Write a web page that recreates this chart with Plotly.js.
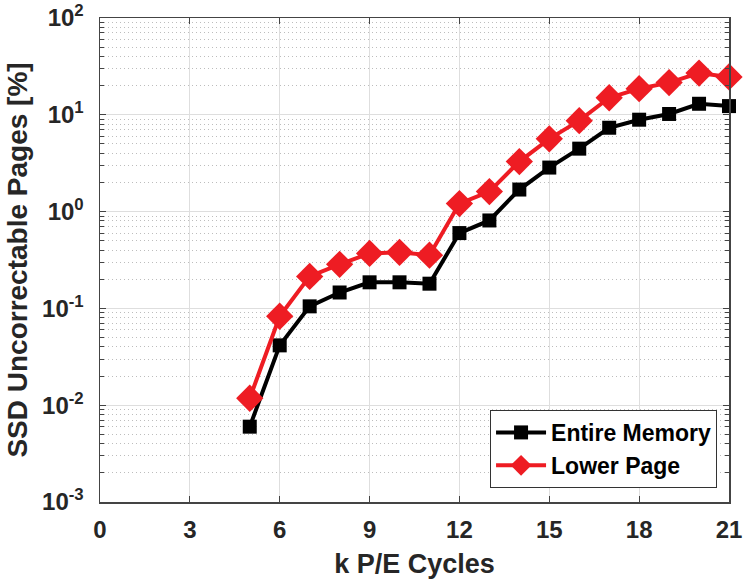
<!DOCTYPE html>
<html>
<head>
<meta charset="utf-8">
<script src="https://cdn.plot.ly/plotly-3.0.1.min.js"></script>
<style>html,body{margin:0;padding:0;background:#fff}#chart{width:743px;height:583px}</style>
</head>
<body>
<div id="chart"></div>
<script>
const kCycles = [5, 6, 7, 8, 9, 10, 11, 12, 13, 14, 15, 16, 17, 18, 19, 20, 21];
const entireMemory = [0.006, 0.0415, 0.105, 0.146, 0.186, 0.186, 0.18, 0.6, 0.81, 1.69, 2.85, 4.47, 7.35, 8.9, 10.2, 13.0, 12.3];
const lowerPage = [0.0118, 0.083, 0.214, 0.285, 0.37, 0.38, 0.355, 1.21, 1.61, 3.29, 5.65, 8.7, 15.0, 18.6, 21.5, 27.0, 24.6];
const xTickVals = [0, 3, 6, 9, 12, 15, 18, 21];
const yTickVals = [0.001, 0.01, 0.1, 1, 10, 100];
const yTickText = ['10<sup>-3</sup>', '10<sup>-2</sup>', '10<sup>-1</sup>', '10<sup>0</sup>', '10<sup>1</sup>', '10<sup>2</sup>'];

const font = 'Liberation Sans, Arial, sans-serif';
const traces = [
  {x: kCycles, y: entireMemory, name: 'Entire Memory', mode: 'lines+markers', type: 'scatter', cliponaxis: false,
   line: {color: '#000000', width: 4}, marker: {symbol: 'square', size: 14, color: '#000000'}},
  {x: kCycles, y: lowerPage, name: 'Lower Page', mode: 'lines+markers', type: 'scatter', cliponaxis: false,
   line: {color: '#ee1c23', width: 4}, marker: {symbol: 'diamond', size: 21, color: '#ee1c23'}}
];
const layout = {
  width: 743, height: 583,
  margin: {l: 100, r: 14, t: 18, b: 81},
  paper_bgcolor: '#ffffff', plot_bgcolor: '#ffffff',
  showlegend: true,
  font: {family: font, color: '#262626'},
  xaxis: {
    range: [0, 21], tickvals: xTickVals, ticktext: xTickVals.map(String),
    ticks: 'inside', ticklen: 6, tickcolor: '#444', tickwidth: 1,
    showline: true, linecolor: '#444', linewidth: 1.5, mirror: 'ticks',
    showgrid: true, gridcolor: '#dedede', gridwidth: 1, zeroline: false,
    ticklabelstandoff: 6,
    tickfont: {family: font, size: 24, color: '#262626', weight: 'bold'},
    title: {text: '<b>k P/E Cycles</b>', font: {family: font, size: 27, color: '#262626'}, standoff: 12}
  },
  yaxis: {
    type: 'log', range: [-3, 2], tickvals: yTickVals, ticktext: yTickText,
    ticks: 'inside', ticklen: 6, tickcolor: '#444', tickwidth: 1,
    showline: true, linecolor: '#444', linewidth: 1.5, mirror: 'ticks',
    showgrid: true, gridcolor: '#dedede', gridwidth: 1, zeroline: false,
    ticklabelstandoff: 10,
    minor: {dtick: 'D1', ticks: 'inside', ticklen: 4, tickcolor: '#444', showgrid: true, gridcolor: '#bdbdbd', griddash: '1px,3px', gridwidth: 1},
    tickfont: {family: font, size: 24, color: '#262626', weight: 'bold'},
    title: {text: '<b>SSD Uncorrectable Pages [%]</b>', font: {family: font, size: 28, color: '#262626'}, standoff: 6}
  },
  legend: {
    x: 0.981, y: 0.029, xanchor: 'right', yanchor: 'bottom',
    bgcolor: '#ffffff', bordercolor: '#333', borderwidth: 1,
    font: {family: font, size: 23, color: '#000000', weight: 'bold'},
    tracegroupgap: 0, itemwidth: 50
  }
};
Plotly.newPlot('chart', traces, layout, {displayModeBar: false, staticPlot: true});
</script>
</body>
</html>
